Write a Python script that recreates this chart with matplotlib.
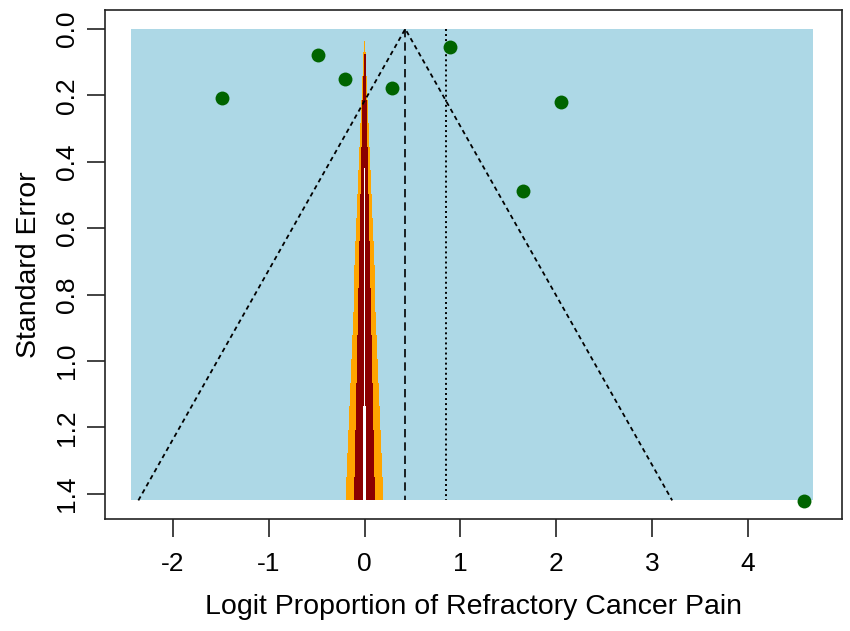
import numpy as np
import matplotlib
matplotlib.use("Agg")
import matplotlib.pyplot as plt

plt.rcParams['font.family'] = ['Liberation Sans', 'DejaVu Sans']

# Study estimates (logit proportion) and standard errors
yi = [-1.489, -0.488, -0.200, 0.290, 0.892, 2.046, 1.656, 4.583]
sei = [0.209, 0.080, 0.152, 0.177, 0.053, 0.221, 0.489, 1.421]

est = 0.425          # pooled estimate (dashed reference line)
dotted_ref = 0.847   # additional dotted reference line
se_max = 1.42
x_region = [-2.43, 4.68]
z_ci = 1.96

# contour shading: (colour, half-width per unit SE, starting SE)
contour_cols = ["orange", "darkred", "white"]
contour_mult = [0.134, 0.074, 0.009]
contour_start = [0.035, 0.075, 0.42]
n_steps = 20

xticks = [-2, -1, 0, 1, 2, 3, 4]
yticks = [0.0, 0.2, 0.4, 0.6, 0.8, 1.0, 1.2, 1.4]

fig = plt.figure(figsize=(8.5, 6.31), dpi=100)
ax = fig.add_axes([105/850, 1-519/631, 737/850, 509/631])

ax.fill_between(x_region, 0, se_max, color="lightblue", lw=0, zorder=0)

grid = np.linspace(0, se_max, n_steps + 1)
for col, m, s0 in zip(contour_cols, contour_mult, contour_start):
    se_g = np.concatenate([[s0], grid[grid > s0]])
    hw = m * np.concatenate([grid[grid > s0], [se_max]])
    ax.fill_betweenx(se_g, -hw, hw, step="post", color=col, lw=0, zorder=1)

ax.plot([est - z_ci*se_max, est, est + z_ci*se_max], [se_max, 0, se_max],
        color="black", lw=1.3, ls=(0, (2.5, 2.0)), zorder=2)
ax.plot([est, est], [0, se_max], color="black", lw=1.2, ls=(0, (5, 3)), zorder=2)
ax.plot([dotted_ref, dotted_ref], [0, se_max], color="black", lw=1.4,
        ls=(0, (1, 1.6)), zorder=2)

ax.scatter(yi, sei, s=100, color="#006400", zorder=3, lw=0)

ax.set_xlim(-2.706, 4.979)
ax.set_ylim(1.476, -0.057)
ax.set_xticks(xticks)
ax.set_xticklabels([str(t) for t in xticks])
ax.set_yticks(yticks)
ax.set_yticklabels([f"{t:.1f}" for t in yticks], rotation=90, va="center")

for sp in ax.spines.values():
    sp.set_linewidth(1.2)
    sp.set_color("#222222")
ax.tick_params(length=13, width=1.2, color="#222222", labelsize=19)
ax.tick_params(axis="x", pad=11)
ax.tick_params(axis="y", pad=6)

ax.set_xlabel("Logit Proportion of Refractory Cancer Pain", fontsize=20.5, labelpad=13)
ax.set_ylabel("Standard Error", fontsize=20.5, labelpad=9)

fig.savefig("out.png", dpi=100)
